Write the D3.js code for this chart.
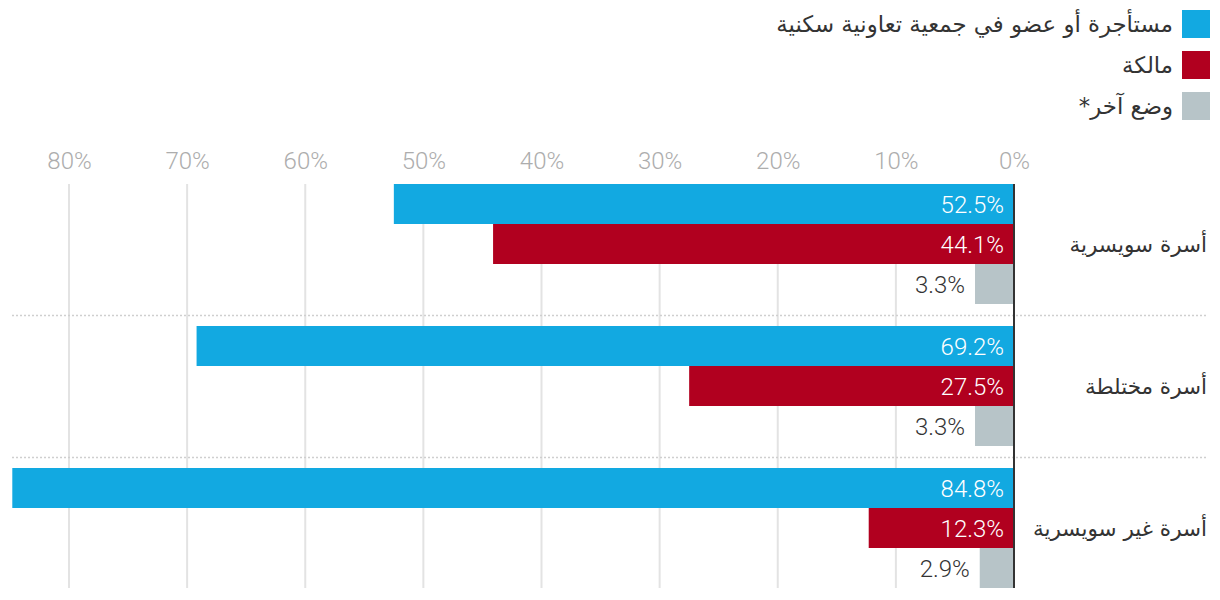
<!DOCTYPE html>
<html><head><meta charset="utf-8">
<script src="https://cdn.jsdelivr.net/npm/d3@7"></script>
<style>
html,body{margin:0;padding:0;background:#fff;}
svg{display:block;font-family:Roboto,"DejaVu Sans",sans-serif;}
</style></head>
<body><div id="chart"></div>
<script>
const categories = ["أسرة سويسرية","أسرة مختلطة","أسرة غير سويسرية"];
const seriesNames = ["مستأجرة أو عضو في جمعية تعاونية سكنية","مالكة","وضع آخر*"];
const seriesColors = ["#12a9e1","#b1001f","#b7c4c8"];
const renters = [52.5, 69.2, 84.8];
const owners = [44.1, 27.5, 12.3];
const other = [3.3, 3.3, 2.9];
const tickValues = [0,10,20,30,40,50,60,70,80];

const W = 1220, H = 600;
const svg = d3.select("#chart").append("svg").attr("width", W).attr("height", H);

const x = d3.scaleLinear().domain([0, 80]).range([1014, 69]);
const y0 = d3.scaleBand().domain(categories).range([173, 599]).paddingInner(0).paddingOuter(0);
const y1 = d3.scaleBand().domain([0,1,2]).range([11, 131]);
const values = [renters, owners, other];

// grid lines
const gridTop = 184, gridBot = 588;
svg.append("g").selectAll("line").data(tickValues.filter(d=>d>0)).join("line")
  .attr("x1", d=>x(d)).attr("x2", d=>x(d)).attr("y1", gridTop).attr("y2", gridBot)
  .attr("stroke", "#e3e3e3").attr("stroke-width", 2);

// axis labels
const axis = d3.axisTop(x).tickValues(tickValues).tickFormat(d=>d+"%").tickSize(0).tickPadding(0);
const ag = svg.append("g").attr("transform", "translate(0,169)").call(axis);
ag.select(".domain").remove();
ag.selectAll("text").attr("fill", "#adadad").attr("font-size", 24).attr("font-weight", 300)
  .attr("font-family", "Roboto, sans-serif");

// separators
svg.append("g").selectAll("line").data(categories.slice(1)).join("line")
  .attr("x1", 12).attr("x2", 1208)
  .attr("y1", d=>y0(d) + 0.5).attr("y2", d=>y0(d) + 0.5)
  .attr("stroke", "#cfcfcf").attr("stroke-width", 1.5).attr("stroke-dasharray", "2,2");

// bars
const groups = svg.append("g").selectAll("g").data(categories).join("g")
  .attr("transform", d=>`translate(0,${y0(d)})`);
groups.each(function(cat, ci){
  const g = d3.select(this);
  [0,1,2].forEach(si=>{
    const v = values[si][ci];
    const yy = y1(si);
    g.append("rect").attr("x", x(v)).attr("y", yy).attr("width", x(0)-x(v)).attr("height", y1.bandwidth())
      .attr("fill", seriesColors[si]);
    const inside = (x(0)-x(v)) > 80;
    g.append("text")
      .attr("x", inside ? x(0) - 10 : x(v) - 10)
      .attr("y", yy + y1.bandwidth()/2)
      .attr("dy", "0.36em")
      .attr("text-anchor", "end")
      .attr("font-size", 24).attr("font-weight", 300)
      .attr("fill", inside ? "#fff" : "#333")
      .text(v.toFixed(1) + "%");
  });
  g.append("text")
    .attr("x", 1207).attr("y", y1(1) + y1.bandwidth()/2).attr("dy", "0.35em")
    .attr("text-anchor", "start").attr("direction", "rtl")
    .attr("font-size", 21.5).attr("fill", "#333")
    .attr("font-family", "'DejaVu Sans', sans-serif")
    .text(cat);
});

// zero line
svg.append("line").attr("x1", x(0)).attr("x2", x(0)).attr("y1", gridTop).attr("y2", gridBot)
  .attr("stroke", "#333").attr("stroke-width", 2);

// legend
const leg = svg.append("g").selectAll("g").data(seriesNames).join("g")
  .attr("transform", (d,i)=>`translate(1182,${10 + i*41})`);
leg.append("rect").attr("width", 28).attr("height", 28).attr("fill", (d,i)=>seriesColors[i]);
leg.append("text").attr("x", -9).attr("y", 14).attr("dy", "0.35em")
  .attr("text-anchor", "start").attr("direction", "rtl")
  .attr("font-size", 22.8).attr("fill", "#333")
  .attr("font-family", "'DejaVu Sans', sans-serif")
  .text(d=>d);
</script></body></html>
